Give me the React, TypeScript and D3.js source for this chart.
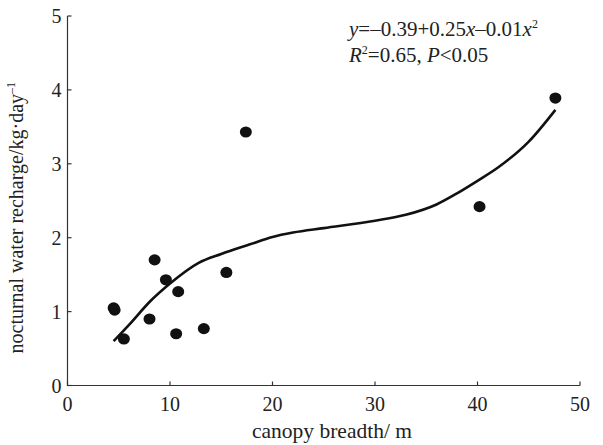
import React from "react";
import * as d3 from "d3";

// measured points
const breadth = [4.5, 4.6, 5.5, 8.0, 8.5, 9.6, 10.8, 10.6, 13.3, 15.5, 17.4, 40.2, 47.6];
const recharge = [1.05, 1.02, 0.63, 0.90, 1.70, 1.43, 1.27, 0.70, 0.77, 1.53, 3.43, 2.42, 3.89];

// fitted curve
const fitX = [4.5, 6, 8, 10, 12.8, 15, 17.8, 20, 22, 25, 30, 33, 36, 38, 40, 42, 45, 47.6];
const fitY = [0.6, 0.82, 1.13, 1.38, 1.66, 1.78, 1.91, 2.01, 2.07, 2.13, 2.23, 2.31, 2.45, 2.6, 2.77, 2.95, 3.3, 3.73];

const xTicks = [0, 10, 20, 30, 40, 50];
const yTicks = [0, 1, 2, 3, 4, 5];

const width = 603;
const height = 445;
const font = "'Liberation Serif', 'Times New Roman', serif";

export default function App() {
  const x = d3.scaleLinear().domain([0, 50]).range([67.5, 580]);
  const y = d3.scaleLinear().domain([0, 5]).range([385.5, 16]);

  const line = d3
    .line<number>()
    .x((d, i) => x(fitX[i]))
    .y(d => y(d))
    .curve(d3.curveMonotoneX);

  return (
    <svg
      width={width}
      height={height}
      style={{ position: "absolute", left: 0, top: 0, background: "#fff" }}
      fontFamily={font}
    >
      {/* axes */}
      <path
        d={`M${x(0)},${y(5)}V${y(0)}H${x(50)}`}
        fill="none"
        stroke="#333"
        strokeWidth={1.2}
      />
      {xTicks.map(t => (
        <g key={"x" + t}>
          <line x1={x(t)} x2={x(t)} y1={y(0)} y2={y(0) - 4} stroke="#333" strokeWidth={1.2} />
          <text x={x(t)} y={y(0) + 25} textAnchor="middle" fontSize={20} fill="#222">
            {t}
          </text>
        </g>
      ))}
      {yTicks.map(t => (
        <g key={"y" + t}>
          <line x1={x(0)} x2={x(0) + 4} y1={y(t)} y2={y(t)} stroke="#333" strokeWidth={1.2} />
          <text x={x(0) - 6} y={y(t) + 7} textAnchor="end" fontSize={20} fill="#222">
            {t}
          </text>
        </g>
      ))}

      {/* axis titles */}
      <text x={332} y={438} textAnchor="middle" fontSize={21.5} fill="#222">
        canopy breadth/ m
      </text>
      <text
        transform={`translate(23, ${y(2.27)}) rotate(-90)`}
        textAnchor="middle"
        fontSize={20}
        fill="#222"
      >
        nocturnal water recharge/kg·day
        <tspan dy={-8} fontSize={12}>–1</tspan>
      </text>

      {/* fit curve */}
      <path d={line(fitY) || ""} fill="none" stroke="#111" strokeWidth={2.6} />

      {/* points */}
      {breadth.map((b, i) => (
        <ellipse key={i} cx={x(b)} cy={y(recharge[i])} rx={6} ry={5.6} fill="#111" />
      ))}

      {/* equation */}
      <text x={349} y={35.5} fontSize={21} fill="#222">
        <tspan fontStyle="italic">y</tspan>=–0.39+0.25<tspan fontStyle="italic">x</tspan>–0.01
        <tspan fontStyle="italic">x</tspan>
        <tspan dy={-8} fontSize={12}>2</tspan>
      </text>
      <text x={349} y={62} fontSize={21} fill="#222">
        <tspan fontStyle="italic">R</tspan>
        <tspan dy={-8} fontSize={12}>2</tspan>
        <tspan dy={8}>=0.65, </tspan>
        <tspan fontStyle="italic">P</tspan>&lt;0.05
      </text>
    </svg>
  );
}
